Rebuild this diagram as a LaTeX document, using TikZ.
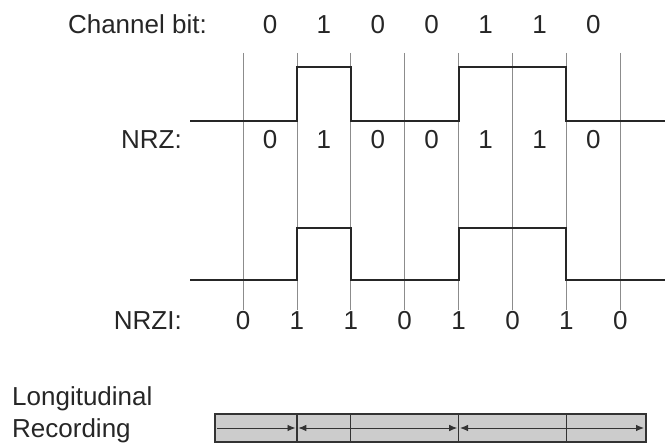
\documentclass[tikz,border=0pt]{standalone}
\usepackage{fontspec}
\setmainfont{Liberation Sans}
\usetikzlibrary{arrows.meta}
\begin{document}
\begin{tikzpicture}[x=1pt,y=-1pt,
  lbl/.style={font=\fontsize{26}{31}\selectfont, text=black!85, inner sep=0pt},
  gridline/.style={draw=black!45, line width=0.8pt},
  signal/.style={draw=black!85, line width=2pt, line join=miter},
  tape/.style={draw=black!80, fill=black!20, line width=1.2pt},
  divider/.style={draw=black!80, line width=1.2pt},
  magnet/.style={draw=black!80, line width=0.9pt, -{Latex[length=8pt,width=6.5pt]}}]
\useasboundingbox (0,0) rectangle (665,444);

% grid lines
\foreach \i in {0,...,7} {
  \coordinate (gt\i) at ({243+53.9*\i},53);
  \coordinate (gb\i) at ({243+53.9*\i},310);
  \draw[gridline] (gt\i) -- (gb\i);
}

% Channel bit row
\node[lbl, anchor=base east] (cb) at (207,34) {Channel bit:};
\foreach \b [count=\i from 0] in {0,1,0,0,1,1,0}
  \node[lbl, anchor=base] (c\i) at ({270+53.9*\i},34) {\b};

% NRZ waveform
\coordinate (nA) at (190,121);
\coordinate (nZ) at (665,121);
\draw[signal] (nA) -- (296.9,121) -- (296.9,67) -- (350.8,67) -- (350.8,121)
  -- (458.6,121) -- (458.6,67) -- (566.4,67) -- (566.4,121) -- (nZ);
\node[lbl, anchor=base east] (nrz) at (182,149) {NRZ:};
\foreach \b [count=\i from 0] in {0,1,0,0,1,1,0}
  \node[lbl, anchor=base] (z\i) at ({270+53.9*\i},149) {\b};

% NRZI waveform
\coordinate (iA) at (190,280);
\coordinate (iZ) at (665,280);
\draw[signal] (iA) -- (296.9,280) -- (296.9,228) -- (350.8,228) -- (350.8,280)
  -- (458.6,280) -- (458.6,228) -- (566.4,228) -- (566.4,280) -- (iZ);
\node[lbl, anchor=base east] (nrzi) at (182,329) {NRZI:};
\foreach \b [count=\i from 0] in {0,1,1,0,1,0,1,0}
  \node[lbl, anchor=base] (r\i) at ({243+53.9*\i},329) {\b};

% Longitudinal recording
\node[lbl, anchor=base west] (lon) at (12,405) {Longitudinal};
\node[lbl, anchor=base west] (rec) at (12,437) {Recording};
\draw[tape] (215,414) rectangle (646,442);
\foreach \x in {296.9,350.8,458.6,566.4}
  \draw[divider] (\x,414) -- (\x,442);
\coordinate (m0) at (217,428);
\coordinate (m1) at (295.5,428);
\coordinate (m1b) at (298.3,428);
\coordinate (m2) at (350.2,428);
\coordinate (m2b) at (351.4,428);
\coordinate (m3) at (457.2,428);
\coordinate (m3b) at (460,428);
\coordinate (m4) at (565.8,428);
\coordinate (m4b) at (567,428);
\coordinate (m5) at (644,428);
\draw[magnet] (m0) -- (m1);
\draw[magnet] (m2) -- (m1b);
\draw[magnet] (m2b) -- (m3);
\draw[magnet] (m4) -- (m3b);
\draw[magnet] (m4b) -- (m5);
\end{tikzpicture}
\end{document}
